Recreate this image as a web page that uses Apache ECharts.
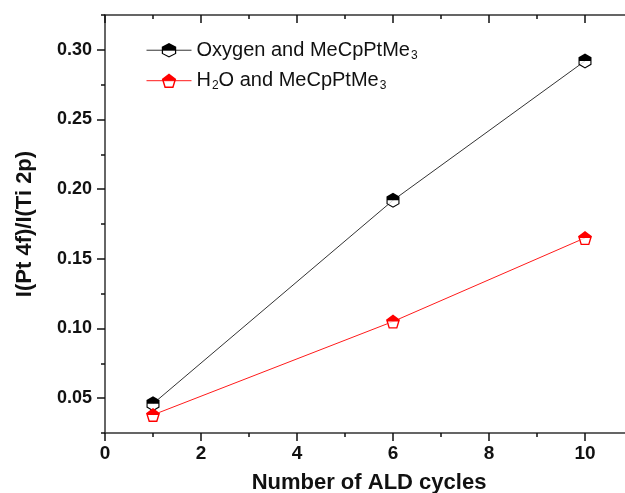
<!DOCTYPE html>
<html>
 <head>
  <title>Pt 4f / Ti 2p ratio vs ALD cycles</title>
  <script src="https://cdn.jsdelivr.net/npm/echarts@6/dist/echarts.min.js"></script>
  <style>
    html, body, #container {
    width: 100%;
    height: 100%;
    margin: 0;
    padding: 0;
    background: #fff;
    }
  </style>
 </head>

<body>
  <div id="container"></div>
  <script>
    // values
    var cycles = [1, 6, 10];
    var oxygen = [0.046, 0.192, 0.292];
    var water = [0.038, 0.105, 0.165];
    var yTickLabels = [0.05, 0.10, 0.15, 0.20, 0.25, 0.30];

    var OX = 'Oxygen and MeCpPtMe3';
    var WA = 'H2O and MeCpPtMe3';
    var FONT = 'Liberation Sans, Arial, sans-serif';

    // pointy-top hexagon and pentagon; "half" versions = solid top + hollow bottom
    var hexFull = 'path://M70 0L140 40L140 120L70 160L0 120L0 40Z';
    var hexHalf = hexFull + 'M12 80L12 113L70 146L128 113L128 80Z';
    var pentFull = 'path://M70 0L140 53L113 140L27 140L0 53Z';
    var pentHalf = pentFull + 'M20 70L37 127L103 127L120 70Z';

    function pairs(ys) {
      return cycles.map(function (c, i) { return [c, ys[i]]; });
    }

    var axisLine = { show: true, lineStyle: { color: '#333', width: 1.5 } };
    var noLabel = { show: false };

    var chartDom = document.getElementById('container');
    var myChart = echarts.init(chartDom);

    var options = {
      animation: false,
      grid: { left: 105, top: 15, right: -8, bottom: 60, outerBoundsMode: 'none', containLabel: false },
      legend: {
        orient: 'vertical',
        left: 141,
        top: 28,
        itemWidth: 45,
        itemHeight: 18,
        itemGap: -4,
        data: [OX, WA],
        lineStyle: { opacity: 1, width: 1 },
        formatter: function (name) {
          return name === OX
            ? '{t|Oxygen and MeCpPtMe}{s|3}'
            : '{t|H}{s|2}{t|O and MeCpPtMe}{s|3}';
        },
        textStyle: {
          rich: {
            t: { fontSize: 20, fontFamily: FONT, color: '#111' },
            s: { fontSize: 12, fontFamily: FONT, color: '#111', padding: [10, 0, 0, 1] }
          }
        }
      },
      xAxis: [
        {
          type: 'value', position: 'bottom', min: 0, max: 11, interval: 2,
          name: 'Number of ALD cycles', nameLocation: 'middle', nameGap: 31,
          nameMoveOverlap: false,
          nameTextStyle: { fontSize: 22, fontWeight: 'bold', fontFamily: FONT, color: '#111' },
          axisLine: axisLine,
          axisTick: { length: 8, lineStyle: { color: '#111', width: 1.5 } },
          axisLabel: {
            margin: 4, fontSize: 19, fontWeight: 'bold', fontFamily: FONT, color: '#111',
            formatter: function (v) { return v % 2 === 0 ? String(v) : ''; }
          },
          splitLine: { show: false }
        },
        {
          type: 'value', position: 'bottom', min: 0, max: 11, interval: 1,
          axisLine: { show: false },
          axisTick: { length: 4, lineStyle: { color: '#111', width: 1.5 } },
          axisLabel: noLabel, splitLine: { show: false }
        },
        {
          type: 'value', position: 'top', min: 0, max: 11, interval: 2,
          axisLine: axisLine,
          axisTick: { inside: true, length: 8, lineStyle: { color: '#111', width: 1.5 } },
          axisLabel: noLabel, splitLine: { show: false }
        },
        {
          type: 'value', position: 'top', min: 0, max: 11, interval: 1,
          axisLine: { show: false },
          axisTick: { inside: true, length: 4, lineStyle: { color: '#111', width: 1.5 } },
          axisLabel: noLabel, splitLine: { show: false }
        }
      ],
      yAxis: [
        {
          type: 'value', position: 'left', min: 0.025, max: 0.325,
          name: 'I(Pt 4f)/I(Ti 2p)', nameLocation: 'middle', nameGap: 61,
          nameMoveOverlap: false,
          nameTextStyle: { fontSize: 22, fontWeight: 'bold', fontFamily: FONT, color: '#111' },
          axisLine: axisLine,
          axisTick: { length: 8, customValues: yTickLabels, lineStyle: { color: '#111', width: 1.5 } },
          axisLabel: {
            margin: 13, fontSize: 18, fontWeight: 'bold', fontFamily: FONT, color: '#111',
            customValues: yTickLabels,
            formatter: function (v) { return v.toFixed(2); }
          },
          splitLine: { show: false }
        },
        {
          type: 'value', position: 'left', min: 0.025, max: 0.325, interval: 0.025,
          axisLine: { show: false },
          axisTick: { length: 4, lineStyle: { color: '#111', width: 1.5 } },
          axisLabel: noLabel, splitLine: { show: false }
        }
      ],
      series: [
        {
          type: 'line', data: pairs(oxygen), symbol: 'none', z: 1, silent: true,
          lineStyle: { color: '#333', width: 1 }
        },
        {
          type: 'line', data: pairs(water), symbol: 'none', z: 1, silent: true,
          lineStyle: { color: '#ff1a1a', width: 1 }
        },
        {
          type: 'scatter', data: pairs(oxygen), symbol: hexFull, symbolSize: [13, 15], z: 2,
          itemStyle: { color: '#fff' }
        },
        {
          type: 'scatter', data: pairs(water), symbol: pentFull, symbolSize: [14, 14], z: 2,
          itemStyle: { color: '#fff' }
        },
        {
          name: OX, type: 'line', data: pairs(oxygen), symbol: hexHalf, symbolSize: [13, 15], z: 3,
          showSymbol: true,
          itemStyle: { color: '#000' },
          lineStyle: { color: '#333', width: 1, opacity: 0 }
        },
        {
          name: WA, type: 'line', data: pairs(water), symbol: pentHalf, symbolSize: [14, 14], z: 3,
          showSymbol: true,
          itemStyle: { color: '#ff0000' },
          lineStyle: { color: '#ff1a1a', width: 1, opacity: 0 }
        }
      ]
    };

    myChart.setOption(options);
  </script>
</body>
</html>
